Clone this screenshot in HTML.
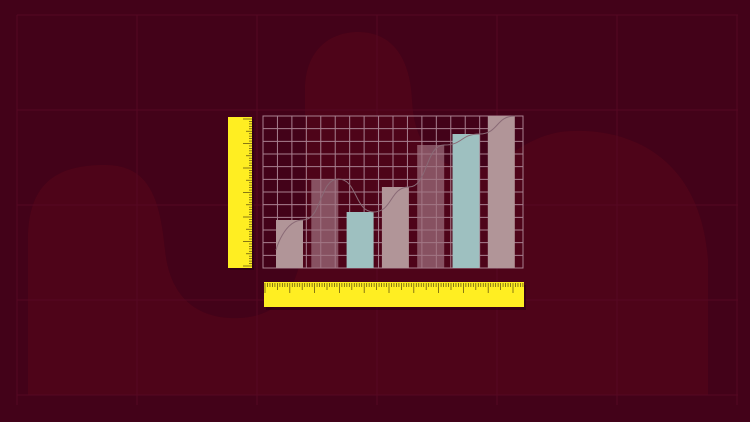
<!DOCTYPE html>
<html><head><meta charset="utf-8"><style>
html,body{margin:0;padding:0;background:#420218;}
svg{display:block}
</style></head><body>
<svg width="750" height="422" viewBox="0 0 750 422" xmlns="http://www.w3.org/2000/svg">
<rect x="0" y="0" width="750" height="422" fill="#430219"/>
<path fill="#4e0419" d="M28,395 L28,240 C28,180 60,165 105,165 C150,165 160,200 165,250 C170,300 200,320 240,318 C280,316 300,290 305,230 L305,90 C305,50 330,32 358,32 C390,32 410,55 412,100 C414,140 430,165 470,170 C500,172 515,140 560,132 C620,125 700,150 708,260 L708,395 Z"/>
<g id="bggrid" stroke="#560822" stroke-width="1" fill="none"></g>
<g id="plot"></g>
</svg>
<script>
const categories=["A","B","C","D","E","F","G"];
const values=[48,89,56,81,123,134,152];
const kinds=["solid","faint","teal","solid","faint","teal","solid"];
const NS="http://www.w3.org/2000/svg";
function mk(t,a,p){const e=document.createElementNS(NS,t);for(const k in a)e.setAttribute(k,a[k]);p.appendChild(e);return e;}
const bg=document.getElementById('bggrid');
for(let i=0;i<7;i++){const l=mk('line',{x1:17+i*120,y1:15,x2:17+i*120,y2:405},bg);}
for(let j=0;j<5;j++){const l=mk('line',{x1:17,y1:15+j*95,x2:738,y2:15+j*95},bg);}
const plot=document.getElementById('plot');
const X0=263,X1=523,Y0=268,Y1=116,VMAX=152;
const y=v=>Y0-(v/VMAX)*(Y0-Y1);
const bx=i=>276+i*35.3;
const gg=mk('g',{stroke:'#a88090','stroke-width':1,fill:'none'},plot);

mk('rect',{x:X0,y:Y1,width:X1-X0,height:Y0-Y1},gg);
for(let i=1;i<18;i++)mk('line',{x1:X0+i*(X1-X0)/18,y1:Y1,x2:X0+i*(X1-X0)/18,y2:Y0},gg);
for(let j=1;j<12;j++)mk('line',{x1:X0,y1:Y1+j*(Y0-Y1)/12,x2:X1,y2:Y1+j*(Y0-Y1)/12},gg);
const fills={solid:['#b19598',1],faint:['#a07280',0.7],teal:['#9ec0c0',1]};
values.forEach((v,i)=>{const f=fills[kinds[i]];
 const r=mk('rect',{x:bx(i),y:y(v),width:27,height:Y0-y(v),fill:f[0],'fill-opacity':f[1]},plot);
 
 });
let d='M'+(bx(0))+','+(y(values[0])+30);
values.forEach((v,i)=>{d+=' S'+(bx(i)+8)+','+y(v)+' '+(bx(i)+27)+','+y(v);});
const tl=mk('path',{d:d,stroke:'#8a6a76','stroke-width':1,fill:'none'},plot);

const vr=mk('g',{},plot);
mk('rect',{x:230,y:119,width:24,height:151,fill:'#2a0010',opacity:0.6},vr);
mk('rect',{x:228,y:117,width:24,height:151,fill:'#ffee22'},vr);
for(let k=0;k<=60;k++){const yy=119+k*2.45;const len=k%10==0?9:(k%5==0?6:3);mk('line',{x1:252-len,y1:yy,x2:252,y2:yy,stroke:'#6a5a10','stroke-width':0.8},vr);}
const hr=mk('g',{},plot);
mk('rect',{x:266,y:285,width:260,height:25,fill:'#2a0010',opacity:0.6},hr);
mk('rect',{x:264,y:282,width:260,height:25,fill:'#ffee22'},hr);
for(let k=0;k<=104;k++){const xx=265+k*2.48;const len=k%10==0?10:(k%5==0?7:4);mk('line',{x1:xx,y1:283,x2:xx,y2:283+len,stroke:'#6a5a10','stroke-width':0.8},hr);}
</script>
</body></html>
